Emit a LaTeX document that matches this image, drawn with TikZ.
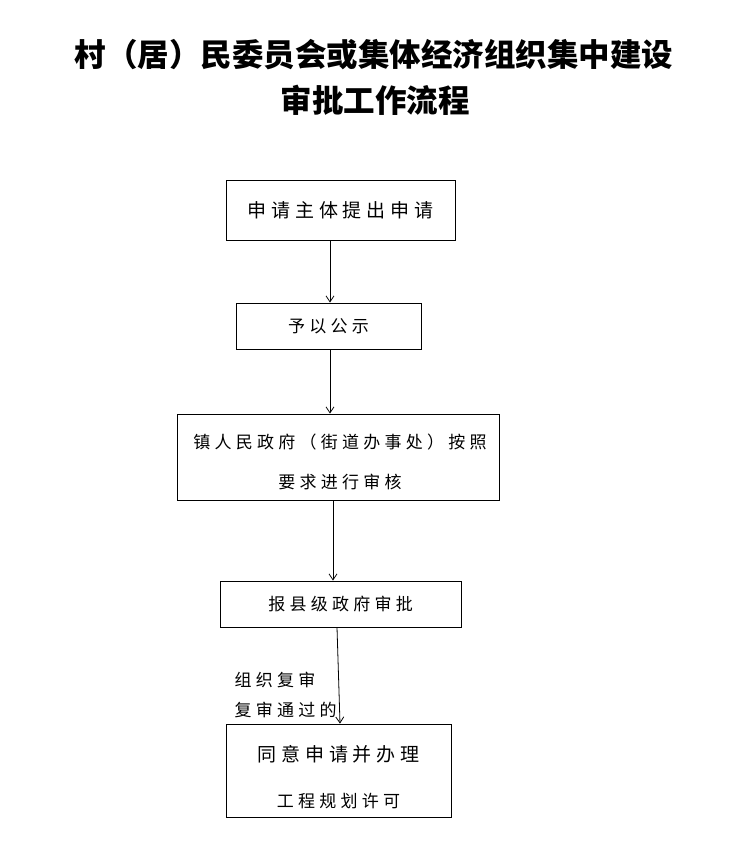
\documentclass[tikz,border=0pt]{standalone}
\usepackage{fontspec}
\setmainfont{Noto Sans CJK SC}
\newfontfamily\spaced[LetterSpace=25]{Noto Sans CJK SC}
\usetikzlibrary{arrows.meta}
\begin{document}
\begin{tikzpicture}[x=1pt,y=-1pt,
 box/.style={draw,line width=0.8pt,inner sep=0pt},
 txt/.style={font=\spaced\fontsize{17}{20}\selectfont},
 arr/.style={-{Straight Barb[length=6pt,width=8pt]},line width=0.8pt}]
\useasboundingbox (0,0) rectangle (744,849);
\node[font=\fontsize{31.5}{36}\selectfont\bfseries] (t1) at (374,55) {村（居）民委员会或集体经济组织集中建设};
\node[font=\fontsize{31.5}{36}\selectfont\bfseries] (t2) at (375,100) {审批工作流程};
\node[box,minimum width=229,minimum height=60] (b1) at (340.5,210) {};
\node[txt,font=\spaced\fontsize{19}{22}\selectfont] at (b1) {申请主体提出申请};
\node[box,minimum width=185,minimum height=46] (b2) at (328.5,326) {};
\node[txt] at (b2) {予以公示};
\node[box,minimum width=322,minimum height=86] (b3) at (338,457) {};
\node[txt] at (340,442) {镇人民政府（街道办事处）按照};
\node[txt] at (340,482) {要求进行审核};
\node[box,minimum width=241,minimum height=46] (b4) at (340.5,604) {};
\node[txt] at (b4) {报县级政府审批};
\node[box,minimum width=225,minimum height=93] (b5) at (338.5,770.5) {};
\node[txt,font=\spaced\fontsize{19}{22}\selectfont] at (338.5,754) {同意申请并办理};
\node[txt] at (338.5,801) {工程规划许可};
\draw[arr] (b1.south -| 330,0) -- (b2.north -| 330,0);
\draw[arr] (b2.south -| 330,0) -- (b3.north -| 330,0);
\draw[arr] (b3.south -| 333,0) -- (b4.north -| 333,0);
\draw[arr] (b4.south -| 337,0) -- (b5.north -| 340,0);
\node[txt,anchor=west] (l1) at (231,680) {组织复审};
\node[txt,anchor=west] (l2) at (231,710) {复审通过的};
\end{tikzpicture}
\end{document}
